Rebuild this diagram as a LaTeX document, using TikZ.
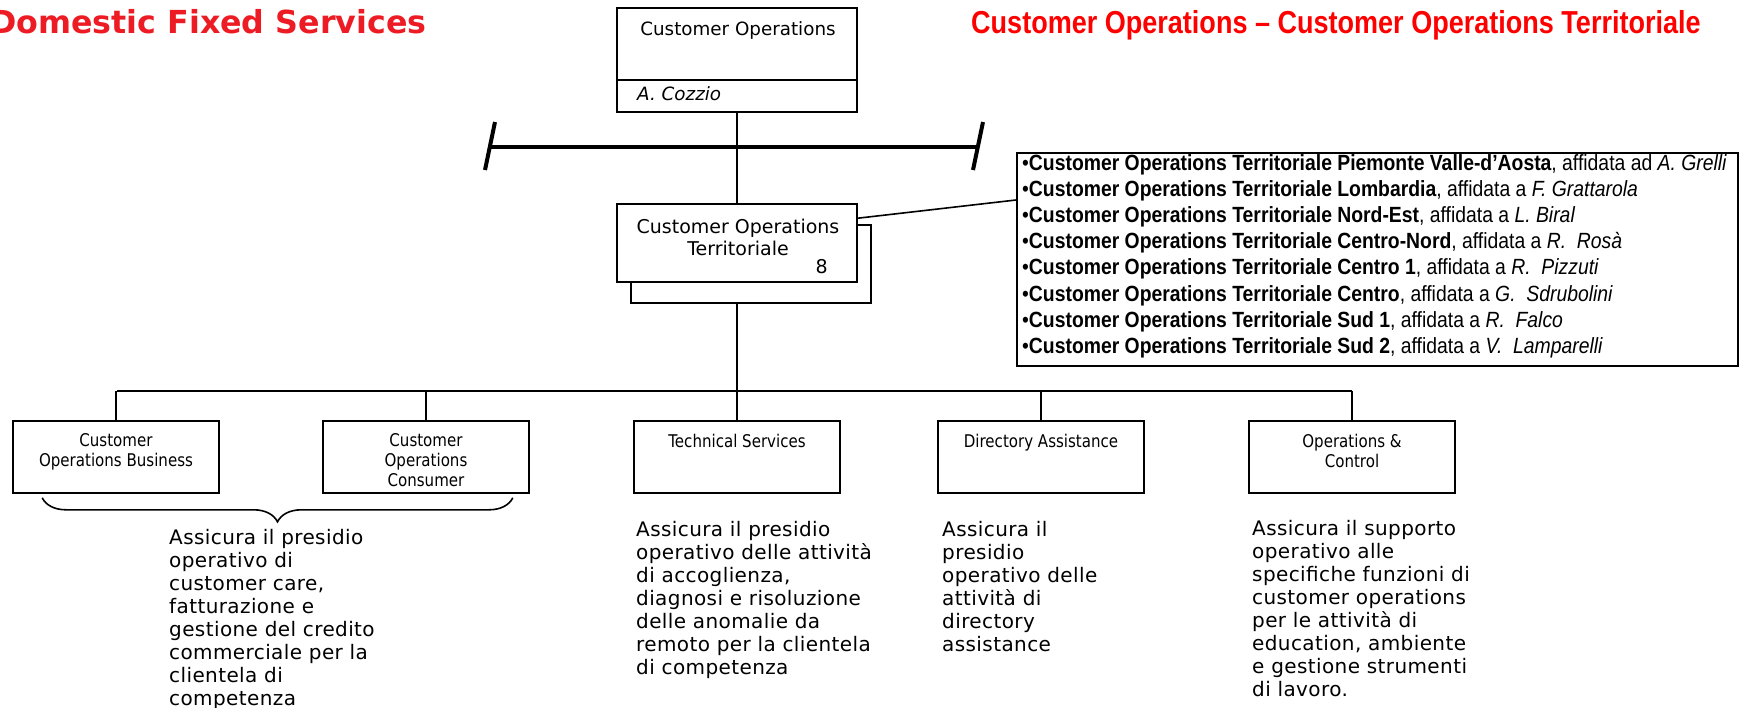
\documentclass[tikz,border=0pt]{standalone}
\usepackage{fontspec}
\setmainfont{DejaVu Sans}
\newfontfamily\verd{DejaVu Sans}
\newfontfamily\descf[LetterSpace=2]{DejaVu Sans}
\newfontfamily\taho[FakeStretch=0.86]{DejaVu Sans}
\newfontfamily\narrowt[FakeStretch=0.85]{Liberation Sans}
\newfontfamily\narrowl[FakeStretch=0.88]{Liberation Sans}
\usetikzlibrary{calc,decorations.pathreplacing}
\definecolor{titlered}{RGB}{237,28,36}
\definecolor{purered}{RGB}{255,0,0}
\begin{document}
\begin{tikzpicture}[x=1pt,y=-1pt,
  box/.style={draw, line width=1.6pt, fill=white, inner sep=0pt},
  unitbox/.style={box, minimum width=206pt, minimum height=72pt},
  lab/.style={font=\taho\fontsize{17.5}{20}\selectfont, align=center, inner sep=0pt, anchor=north},
  desc/.style={font=\descf\fontsize{20}{23}\selectfont, align=left, inner sep=0pt, anchor=north west},
  conn/.style={line width=1.6pt},
  thick/.style={line width=4pt}]
\useasboundingbox (0,0) rectangle (1739,707);
\fill[white] (0,0) rectangle (1739,707);

% titles
\node[anchor=base west, inner sep=0pt, text=titlered, font=\verd\bfseries\fontsize{31.7}{36}\selectfont] (ttl) at (-10,33) {Domestic Fixed Services};
\node[anchor=base west, inner sep=0pt, text=purered, font=\narrowt\bfseries\fontsize{31.8}{36}\selectfont] (ttr) at (971,33) {Customer Operations – Customer Operations Territoriale};

% top box
\node[box, minimum width=240pt, minimum height=104pt] (top) at (737,60) {};
\draw[conn] ($(top.south west)+(0,-33)$) -- ($(top.south east)+(0,-33)$);
\node[anchor=base, inner sep=0pt, font=\verd\fontsize{18.3}{22}\selectfont] (toptxt) at (738,35) {Customer Operations};
\node[anchor=base west, inner sep=0pt, font=\verd\itshape\fontsize{18.3}{22}\selectfont] (topname) at (637,100) {A. Cozzio};

% thick line with ticks
\coordinate (tl) at (490,147);
\coordinate (tr) at (978,147);
\draw[thick] (tl) -- (tr);
\draw[thick] ($(tl)+(5,-25)$) -- ($(tl)+(-5,23)$);
\draw[thick] ($(tr)+(5,-25)$) -- ($(tr)+(-5,23)$);

% territoriale box with shadow
\node[box, minimum width=240pt, minimum height=78pt] (terrsh) at (751,264) {};
\node[box, minimum width=240pt, minimum height=78pt] (terr) at (737,243) {};
\node[inner sep=0pt, anchor=north, align=center, font=\verd\fontsize{19}{22}\selectfont] (terrtxt) at (738,218.5) {Customer Operations\\Territoriale};
\node[anchor=base east, inner sep=0pt, font=\verd\fontsize{19}{22}\selectfont] (terrn) at (828,273) {8};
\draw[conn] (top.south) -- (terr.north);

% list box
\node[draw, line width=2.2pt, fill=white, inner sep=0pt, minimum width=721pt, minimum height=213pt, anchor=north west] (list) at (1016,152) {};
\node[anchor=north west, inner sep=0pt, align=left, font=\narrowl\fontsize{22}{26.2}\selectfont] (listtxt) at (1022,154) {%
•\textbf{Customer Operations Territoriale Piemonte Valle-d’Aosta}, affidata ad \textit{A. Grelli}\\
•\textbf{Customer Operations Territoriale Lombardia}, affidata a \textit{F. Grattarola}\\
•\textbf{Customer Operations Territoriale Nord-Est}, affidata a \textit{L. Biral}\\
•\textbf{Customer Operations Territoriale Centro-Nord}, affidata a \textit{R.~~Rosà}\\
•\textbf{Customer Operations Territoriale Centro 1}, affidata a \textit{R.~~Pizzuti}\\
•\textbf{Customer Operations Territoriale Centro}, affidata a \textit{G.~~Sdrubolini}\\
•\textbf{Customer Operations Territoriale Sud 1}, affidata a \textit{R.~~Falco}\\
•\textbf{Customer Operations Territoriale Sud 2}, affidata a \textit{V.~~Lamparelli}};
\draw[conn] ($(terr.north east)+(0,15)$) -- ($(list.north west)+(0,48)$);

% bus
\coordinate (busL) at (117,391);
\coordinate (busR) at (1352,391);
\draw[line width=2.2pt] (busL) -- (busR);
\draw[conn] (terrsh.south -| terr.south) -- (terr.south |- busL);

% unit boxes
\node[unitbox] (b1) at (116,457) {};
\node[unitbox] (b2) at (426,457) {};
\node[unitbox] (b3) at (737,457) {};
\node[unitbox] (b4) at (1041,457) {};
\node[unitbox] (b5) at (1352,457) {};
\foreach \b in {b1,b2,b3,b4,b5} {\draw[conn] (\b.north) -- (\b.north |- busL);}

\node[lab] (l1) at ($(b1.north)+(0,13.5)$) {Customer\\Operations Business};
\node[lab] (l2) at ($(b2.north)+(0,13.5)$) {Customer\\Operations\\Consumer};
\node[lab] (l3) at ($(b3.north)+(0,13.5)$) {Technical Services};
\node[lab] (l4) at ($(b4.north)+(0,13.5)$) {Directory Assistance};
\node[lab] (l5) at ($(b5.north)+(0,13.5)$) {Operations \&\\Control};

% brace
\draw[conn, decorate, decoration={brace, amplitude=24pt, mirror}] ($(b1.south west)+(30,4)$) -- ($(b2.south east)+(-17,4)$);

% descriptions
\node[desc] (d1) at (169,529) {Assicura il presidio\\operativo di\\customer care,\\fatturazione e\\gestione del credito\\commerciale per la\\clientela di\\competenza};
\node[desc] (d2) at (636,521.5) {Assicura il presidio\\operativo delle attività\\di accoglienza,\\diagnosi e risoluzione\\delle anomalie da\\remoto per la clientela\\di competenza};
\node[desc] (d3) at (942,521.5) {Assicura il\\presidio\\operativo delle\\attività di\\directory\\assistance};
\node[desc] (d4) at (1252,520.5) {Assicura il supporto\\operativo alle\\specifiche funzioni di\\customer operations\\per le attività di\\education, ambiente\\e gestione strumenti\\di lavoro.};
\end{tikzpicture}
\end{document}
